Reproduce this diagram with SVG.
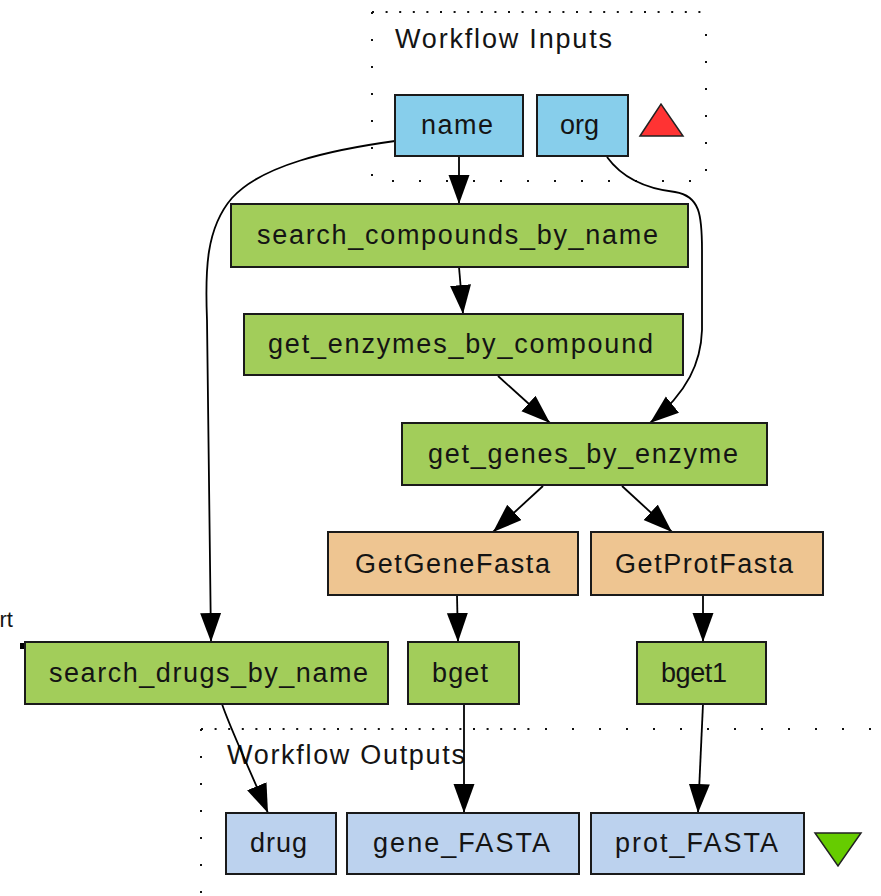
<svg xmlns="http://www.w3.org/2000/svg" width="881" height="896" viewBox="0 0 881 896">
  <style>
    .box { stroke: #1a1a1a; stroke-width: 2; }
    .in { fill: #87ceeb; }
    .proc { fill: #a2cd5a; }
    .bsh { fill: #eec591; }
    .out { fill: #bcd2ee; }
    .lbl { font-family: "Liberation Sans", Arial, sans-serif; font-size: 27px; fill: #141414; }
    .edge { fill: none; stroke: #000; stroke-width: 1.8; marker-end: url(#arrow); }
    .dense { fill: none; stroke: #111; stroke-width: 2; stroke-dasharray: 2 11.6; }
    .sparse { fill: none; stroke: #111; stroke-width: 2; stroke-dasharray: 2 25; }
  </style>
  <defs>
    <marker id="arrow" markerUnits="userSpaceOnUse" markerWidth="30" markerHeight="22" refX="29" refY="10.5" orient="auto">
      <path d="M0,0 L29,10.5 L0,21 z" fill="#000"/>
    </marker>
  </defs>

  <rect width="881" height="896" fill="#fff"/>

  <!-- Workflow Inputs cluster -->
  <g id="cluster_inputs">
    <path class="dense" d="M372,12 H706"/>
    <path class="sparse" d="M372,12 V181 H706 V12"/>
    <text class="lbl" x="395" y="48" textLength="217" lengthAdjust="spacing">Workflow Inputs</text>
    <polygon points="640,136 661,104 683,136" fill="#ff3333" stroke="#222" stroke-width="1.5"/>
  </g>

  <!-- Workflow Outputs cluster -->
  <g id="cluster_outputs">
    <path class="dense" d="M201,729 H540"/>
    <path class="sparse" d="M545,729 H881"/>
    <path class="sparse" d="M201,729 V896"/>
    <text class="lbl" x="227" y="764" textLength="238" lengthAdjust="spacing">Workflow Outputs</text>
    <polygon points="815,833 861,833 838,866" fill="#66cc00" stroke="#222" stroke-width="1.5"/>
  </g>

  <!-- clipped label at left edge -->
  <text class="lbl" x="13" y="627" text-anchor="end" style="font-size:22px">rt</text>
  <rect x="20" y="643" width="6" height="6" fill="#000"/>

  <!-- connectors -->
  <g id="edges">
    <path class="edge" d="M459,156 L459,204"/>
    <path class="edge" d="M395,141 C330,150 262,165 232,198 C206,228 205,270 207,320 L211,642"/>
    <path class="edge" d="M607,157 C620,175 640,188 675,192 C700,196 702,215 702,250 L702,330 C701,362 688,392 650,423"/>
    <path class="edge" d="M459,267 L463,314"/>
    <path class="edge" d="M498,376 L550,423"/>
    <path class="edge" d="M543,486 L493,532"/>
    <path class="edge" d="M622,486 L672,532"/>
    <path class="edge" d="M457,595 L458,642"/>
    <path class="edge" d="M703,595 L703,642"/>
    <path class="edge" d="M222,704 C230,728 250,770 268,813"/>
    <path class="edge" d="M464,704 L464,813"/>
    <path class="edge" d="M703,704 L698,813"/>
  </g>

  <!-- input ports -->
  <g id="name">
    <rect class="box in" x="395" y="95" width="128" height="61"/>
    <text class="lbl" x="421" y="134" textLength="72" lengthAdjust="spacing">name</text>
  </g>
  <g id="org">
    <rect class="box in" x="537" y="95" width="91" height="61"/>
    <text class="lbl" x="560" y="134" textLength="39" lengthAdjust="spacing">org</text>
  </g>

  <!-- processors -->
  <g id="search_compounds_by_name">
    <rect class="box proc" x="231" y="204" width="457" height="63"/>
    <text class="lbl" x="257" y="244" textLength="401" lengthAdjust="spacing">search_compounds_by_name</text>
  </g>
  <g id="get_enzymes_by_compound">
    <rect class="box proc" x="244" y="314" width="439" height="61"/>
    <text class="lbl" x="268" y="353" textLength="385" lengthAdjust="spacing">get_enzymes_by_compound</text>
  </g>
  <g id="get_genes_by_enzyme">
    <rect class="box proc" x="402" y="423" width="365" height="62"/>
    <text class="lbl" x="428" y="463" textLength="310" lengthAdjust="spacing">get_genes_by_enzyme</text>
  </g>
  <g id="GetGeneFasta">
    <rect class="box bsh" x="328" y="532" width="250" height="63"/>
    <text class="lbl" x="355" y="573" textLength="195" lengthAdjust="spacing">GetGeneFasta</text>
  </g>
  <g id="GetProtFasta">
    <rect class="box bsh" x="591" y="532" width="232" height="63"/>
    <text class="lbl" x="615" y="573" textLength="178" lengthAdjust="spacing">GetProtFasta</text>
  </g>
  <g id="search_drugs_by_name">
    <rect class="box proc" x="25" y="642" width="363" height="62"/>
    <text class="lbl" x="49" y="682" textLength="319" lengthAdjust="spacing">search_drugs_by_name</text>
  </g>
  <g id="bget">
    <rect class="box proc" x="408" y="642" width="111" height="62"/>
    <text class="lbl" x="432" y="682" textLength="56" lengthAdjust="spacing">bget</text>
  </g>
  <g id="bget1">
    <rect class="box proc" x="637" y="642" width="129" height="62"/>
    <text class="lbl" x="661" y="682" textLength="66" lengthAdjust="spacing">bget1</text>
  </g>

  <!-- output ports -->
  <g id="drug">
    <rect class="box out" x="226" y="813" width="110" height="61"/>
    <text class="lbl" x="250" y="852" textLength="57" lengthAdjust="spacing">drug</text>
  </g>
  <g id="gene_FASTA">
    <rect class="box out" x="347" y="813" width="232" height="61"/>
    <text class="lbl" x="373" y="852" textLength="177" lengthAdjust="spacing">gene_FASTA</text>
  </g>
  <g id="prot_FASTA">
    <rect class="box out" x="591" y="813" width="213" height="61"/>
    <text class="lbl" x="615" y="852" textLength="163" lengthAdjust="spacing">prot_FASTA</text>
  </g>
</svg>
